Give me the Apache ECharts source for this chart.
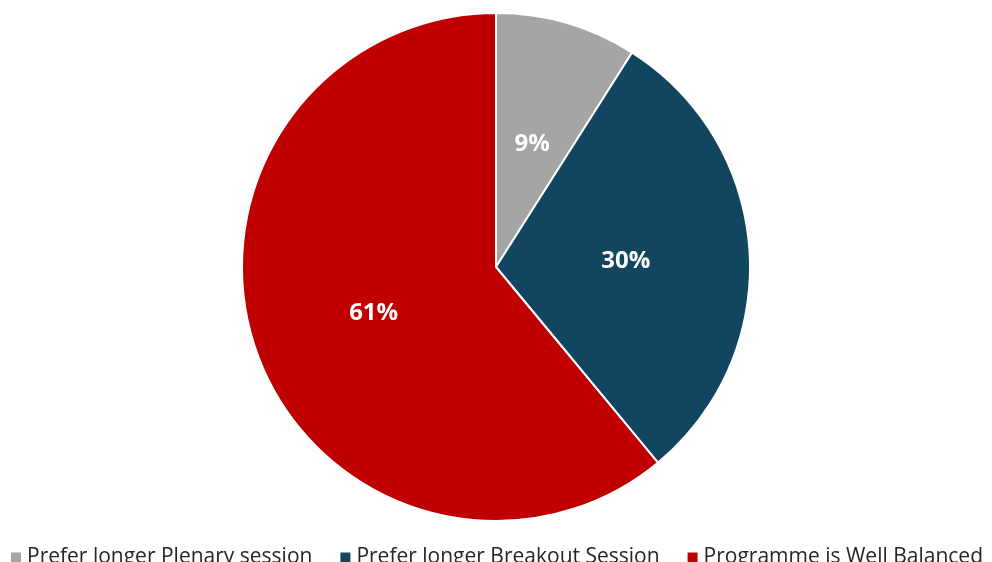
<!DOCTYPE html>
<html>
<head>
<meta charset="utf-8">
<style>
  html, body { margin: 0; padding: 0; background: #ffffff; }
  #chart { width: 992px; height: 562px; }
</style>
<script src="https://cdn.jsdelivr.net/npm/echarts@6/dist/echarts.min.js"></script>
</head>
<body>
<div id="chart"></div>
<script>
// Session preference survey shares
const categories = ['Prefer longer Plenary session', 'Prefer longer Breakout Session', 'Programme is Well Balanced'];
const shares = [9, 30, 61];
const sliceColors = ['#A5A5A5', '#124660', '#C00000'];

const chart = echarts.init(document.getElementById('chart'), null, { renderer: 'canvas' });

chart.setOption({
  animation: false,
  color: sliceColors,
  legend: {
    data: categories,
    bottom: -11,
    left: 'center',
    itemWidth: 12,
    itemHeight: 12,
    itemGap: 26,
    icon: 'rect',
    textStyle: { fontFamily: 'Open Sans', fontSize: 21, color: '#262626' }
  },
  series: [{
    type: 'pie',
    center: [496, 267],
    radius: 254,
    startAngle: 90,
    clockwise: true,
    data: categories.map((name, i) => ({ name, value: shares[i] })),
    itemStyle: { borderColor: '#ffffff', borderWidth: 2 },
    label: {
      show: true,
      position: 'inside',
      formatter: '{c}%',
      color: '#ffffff',
      fontFamily: 'Open Sans',
      fontWeight: 'bold',
      fontSize: 24,
      offset: [0, 2]
    },
    labelLine: { show: false },
    emphasis: { disabled: true }
  }]
});
</script>
</body>
</html>
